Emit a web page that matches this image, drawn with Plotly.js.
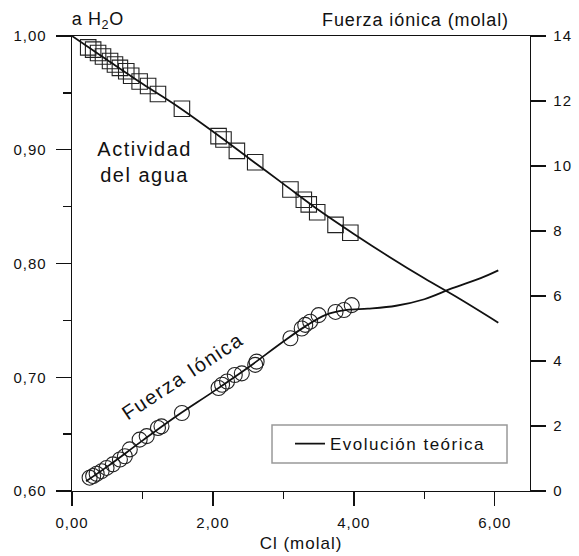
<!DOCTYPE html>
<html>
<head>
<meta charset="utf-8">
<script src="https://cdn.plot.ly/plotly-3.0.1.min.js"></script>
<style>
html,body{margin:0;padding:0;background:#fff}
#chart{width:579px;height:556px}
#chart .xtick text, #chart .ytick text, #chart .y2tick text{letter-spacing:1px}
#chart .xtitle{letter-spacing:1px}
.annotation-text{letter-spacing:0.9px}
#chart g.annotation[data-index="0"] .annotation-text{letter-spacing:0.6px}
#chart g.annotation[data-index="2"] .annotation-text,
#chart g.annotation[data-index="3"] .annotation-text{letter-spacing:1.5px}
.legendtext, text.legendtext{letter-spacing:1.5px}
</style>
</head>
<body>
<div id="chart"></div>
<script>
// Measured water activity (squares)
var clAw = [0.23, 0.30, 0.37, 0.44, 0.54, 0.61, 0.68, 0.77, 0.84, 0.96, 1.08, 1.22, 1.56, 2.08, 2.15, 2.34, 2.60, 3.10, 3.29, 3.36, 3.48, 3.74, 3.95];
var aw   = [0.990, 0.988, 0.985, 0.982, 0.978, 0.975, 0.972, 0.969, 0.965, 0.960, 0.956, 0.949, 0.936, 0.912, 0.909, 0.899, 0.889, 0.865, 0.856, 0.852, 0.845, 0.834, 0.827];

// Measured ionic strength (circles)
var clI = [0.25, 0.30, 0.35, 0.42, 0.49, 0.58, 0.68, 0.75, 0.82, 0.96, 1.06, 1.22, 1.27, 1.56, 2.08, 2.13, 2.20, 2.31, 2.41, 2.60, 2.62, 3.10, 3.26, 3.31, 3.38, 3.50, 3.74, 3.86, 3.97];
var ionic = [0.41, 0.46, 0.53, 0.61, 0.71, 0.82, 0.97, 1.07, 1.28, 1.58, 1.69, 1.94, 1.99, 2.40, 3.17, 3.27, 3.37, 3.57, 3.62, 3.88, 3.98, 4.70, 5.00, 5.11, 5.21, 5.41, 5.51, 5.57, 5.72];

// Theoretical evolution curves
var clAwTheo = [0, 0.5, 1, 1.5, 2, 2.5, 3, 3.5, 4, 4.5, 5, 5.5, 6.05];
var awTheo   = [1.000, 0.979, 0.958, 0.938, 0.916, 0.893, 0.870, 0.847, 0.826, 0.806, 0.787, 0.769, 0.748];
var clITheo  = [0.2, 0.5, 1, 1.5, 2, 2.5, 3, 3.3, 3.6, 3.9, 4.2, 4.6, 5, 5.4, 5.8, 6.05];
var iTheo    = [0.30, 0.75, 1.55, 2.33, 3.05, 3.80, 4.60, 5.05, 5.42, 5.57, 5.61, 5.70, 5.90, 6.24, 6.55, 6.79];

var xTicks = [0, 2, 4, 6];
var yTicks = [0.6, 0.7, 0.8, 0.9, 1.0];
var y2Ticks = [0, 2, 4, 6, 8, 10, 12, 14];

var FONT = 'Liberation Sans, Arial, sans-serif';

var traces = [
  {x: clAw, y: aw, type: 'scatter', mode: 'markers', showlegend: false,
   marker: {symbol: 'square-open', size: 15.5, color: '#222', line: {width: 1.1, color: '#222'}}},
  {x: clI, y: ionic, yaxis: 'y2', type: 'scatter', mode: 'markers', showlegend: false,
   marker: {symbol: 'circle-open', size: 15, color: '#222', line: {width: 1.1, color: '#222'}}},
  {x: clAwTheo, y: awTheo, type: 'scatter', mode: 'lines', name: 'Evolución teórica', showlegend: true,
   line: {color: '#111', width: 1.8, shape: 'spline'}},
  {x: clITheo, y: iTheo, yaxis: 'y2', type: 'scatter', mode: 'lines', showlegend: false,
   line: {color: '#111', width: 1.8, shape: 'spline'}}
];

var layout = {
  width: 579, height: 556,
  margin: {l: 72, r: 49, t: 36, b: 65},
  paper_bgcolor: '#fff', plot_bgcolor: '#fff',
  separators: ',.',
  font: {family: FONT, size: 15, color: '#111'},
  xaxis: {
    range: [0, 6.5], tickvals: xTicks, tickformat: '.2f',
    ticks: 'outside', ticklen: 14, tickwidth: 1.3, tickcolor: '#111',
    minor: {dtick: 1, ticks: 'outside', ticklen: 7, tickwidth: 1.3, tickcolor: '#111'},
    showgrid: false, zeroline: false, showline: true, linecolor: '#111', linewidth: 1.3, mirror: true,
    tickfont: {size: 15}, ticklabelstandoff: 4,
    title: {text: 'Cl (molal)', font: {size: 17}, standoff: 6}
  },
  yaxis: {
    range: [0.6, 1.0], tickvals: yTicks, tickformat: '.2f',
    ticks: 'outside', ticklen: 15, tickwidth: 1.3, tickcolor: '#111',
    minor: {dtick: 0.05, ticks: 'outside', ticklen: 8, tickwidth: 1.3, tickcolor: '#111'},
    showgrid: false, zeroline: false, showline: true, linecolor: '#111', linewidth: 1.3,
    tickfont: {size: 15}, ticklabelstandoff: 6
  },
  yaxis2: {
    range: [0, 14], tickvals: y2Ticks, overlaying: 'y', side: 'right',
    ticks: 'outside', ticklen: 15, tickwidth: 1.3, tickcolor: '#111',
    showgrid: false, zeroline: false, showline: true, linecolor: '#111', linewidth: 1.3,
    tickfont: {size: 15}, ticklabelstandoff: 4
  },
  shapes: [
    {type: 'rect', xref: 'paper', yref: 'paper', x0: 0.4367, x1: 0.9498, y0: 0.0615, y1: 0.145,
     line: {color: '#999', width: 1.5}, fillcolor: '#fff', layer: 'below'}
  ],
  legend: {
    x: 0.476, y: 0.103, xanchor: 'left', yanchor: 'middle',
    bgcolor: 'rgba(0,0,0,0)', borderwidth: 0,
    font: {size: 17}, itemwidth: 30
  },
  annotations: [
    {xref: 'paper', yref: 'paper', x: 0.057, y: 1.035, xanchor: 'center', yanchor: 'middle',
     text: 'a H<sub>2</sub>O', showarrow: false, font: {size: 18}},
    {xref: 'paper', yref: 'paper', x: 0.75, y: 1.035, xanchor: 'center', yanchor: 'middle',
     text: 'Fuerza iónica (molal)', showarrow: false, font: {size: 18}},
    {xref: 'x', yref: 'y', x: 1.035, y: 0.889, text: 'Actividad<br>del agua', showarrow: false,
     font: {size: 20}, align: 'center'},
    {xref: 'x', yref: 'y', x: 1.57, y: 0.701, text: 'Fuerza Iónica', showarrow: false,
     font: {size: 20}, textangle: -33.5}
  ]
};

Plotly.newPlot('chart', traces, layout, {displayModeBar: false, staticPlot: true});
</script>
</body>
</html>
